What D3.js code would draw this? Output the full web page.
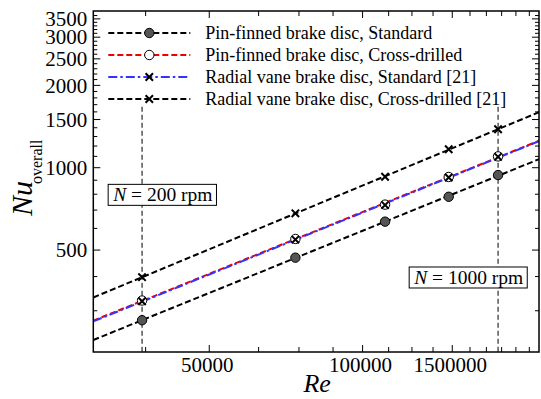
<!DOCTYPE html>
<html>
<head>
<meta charset="utf-8">
<script src="https://cdn.jsdelivr.net/npm/d3@7"></script>
<style>
  body { margin: 0; background: #fff; }
  text { font-family: "Liberation Serif", "Times New Roman", serif; fill: #000; }
</style>
</head>
<body>
<div id="chart"></div>
<script>
// Reynolds number at N = 200, 400, 600, 800, 1000 rpm
const re = [36900, 73800, 110700, 147600, 184500];
const nuPinStd = [277, 469, 635, 783, 940];
const nuPinCross = [327, 549, 733, 925, 1100];
const nuRadStd = [325, 546, 730, 921, 1096];
const nuRadCross = [398, 681, 927, 1168, 1382];

const seriesNames = [
  'Pin-finned brake disc, Standard',
  'Pin-finned brake disc, Cross-drilled',
  'Radial vane brake disc, Standard [21]',
  'Radial vane brake disc, Cross-drilled [21]'
];

const xTickValues = [37500, 50000, 62500, 75000, 87500, 100000, 112500, 125000,
  137500, 150000, 162500, 175000, 187500, 200000, 212500];
const xLabelValues = [50000, 100000, 150000];
const xLabels = ['50000', '100000', '1500000'];
const yLabelValues = [500, 1000, 1500, 2000, 2500, 3000, 3500];
const yMinorValues = d3.range(300, 3700, 100);

const rpmMarks = [
  { text: '200 rpm', re: 36900, nuTop: 1670, boxRe: 31800, boxNu: 798 },
  { text: '1000 rpm', re: 184500, nuTop: 1670, boxRe: 124000, boxNu: 398 }
];

const W = 541, H = 399;
const margin = { top: 11, right: 2, bottom: 47, left: 93.3 };
const width = W - margin.left - margin.right;
const height = H - margin.top - margin.bottom;

const svg = d3.select('#chart').append('svg')
  .attr('width', W).attr('height', H);
const g = svg.append('g').attr('transform', `translate(${margin.left},${margin.top})`);

const x = d3.scaleLog().domain([29600, 222000]).range([0, width]);
const y = d3.scaleLog().domain([212, 3740]).range([height, 0]);

svg.append('clipPath').attr('id', 'clip')
  .append('rect').attr('width', width).attr('height', height);

// ticks, inward on all four sides
const tickG = g.append('g').attr('stroke', '#000').attr('stroke-width', 1);
xTickValues.forEach(v => {
  const len = xLabelValues.includes(v) ? 7 : 5;
  tickG.append('line').attr('x1', x(v)).attr('x2', x(v)).attr('y1', height).attr('y2', height - len);
  tickG.append('line').attr('x1', x(v)).attr('x2', x(v)).attr('y1', 0).attr('y2', len);
});
yMinorValues.forEach(v => {
  const len = yLabelValues.includes(v) ? 7 : 4;
  tickG.append('line').attr('y1', y(v)).attr('y2', y(v)).attr('x1', 0).attr('x2', len);
  tickG.append('line').attr('y1', y(v)).attr('y2', y(v)).attr('x1', width).attr('x2', width - len);
});

g.append('g').selectAll('text').data(xLabelValues).join('text')
  .attr('x', d => x(d) - 2)
  .attr('y', height + 20)
  .attr('text-anchor', 'middle')
  .style('font-size', '21px')
  .text((d, i) => xLabels[i]);

g.append('g').selectAll('text').data(yLabelValues).join('text')
  .attr('x', -6)
  .attr('y', d => y(d))
  .attr('dy', '0.34em')
  .attr('text-anchor', 'end')
  .style('font-size', '21px')
  .text(d => d);

// vertical rpm lines
const plot = g.append('g').attr('clip-path', 'url(#clip)');
rpmMarks.forEach(m => {
  plot.append('line')
    .attr('x1', x(m.re)).attr('x2', x(m.re))
    .attr('y1', y(m.nuTop)).attr('y2', height)
    .attr('stroke', '#000').attr('stroke-width', 1)
    .attr('stroke-dasharray', '5,3');
});

// power-law fit in log-log space, drawn across the whole x domain
function fit(ys) {
  const lx = re.map(Math.log), ly = ys.map(Math.log);
  const mx = d3.mean(lx), my = d3.mean(ly);
  const b = d3.sum(lx, (v, i) => (v - mx) * (ly[i] - my)) / d3.sum(lx, v => (v - mx) ** 2);
  const a = my - b * mx;
  return x.domain().map(r => [r, Math.exp(a + b * Math.log(r))]);
}

const styles = [
  { data: nuPinStd, color: '#000', dash: '6,3', marker: 'fill' },
  { data: nuPinCross, color: '#f00000', dash: '6,3', marker: 'open' },
  { data: nuRadStd, color: '#3333ff', dash: '9,3,2.5,3', marker: 'x' },
  { data: nuRadCross, color: '#000', dash: '6,3', marker: 'x' }
];

const line = d3.line().x(d => x(d[0])).y(d => y(d[1]));

[0, 3, 1, 2].forEach(i => {
  const s = styles[i];
  plot.append('path')
    .datum(fit(s.data))
    .attr('fill', 'none')
    .attr('stroke', s.color)
    .attr('stroke-width', 2)
    .attr('stroke-dasharray', s.dash)
    .attr('d', line);
});

function drawMarker(sel, kind, cx, cy) {
  if (kind === 'fill' || kind === 'open') {
    sel.append('circle').attr('cx', cx).attr('cy', cy).attr('r', 4.7)
      .attr('fill', kind === 'fill' ? '#555' : '#fff')
      .attr('stroke', '#000').attr('stroke-width', 1);
  } else {
    const r = 3.7;
    sel.append('path')
      .attr('d', `M${cx - r},${cy - r}L${cx + r},${cy + r}M${cx - r},${cy + r}L${cx + r},${cy - r}`)
      .attr('stroke', '#000').attr('stroke-width', 2).attr('fill', 'none');
  }
}

const markG = g.append('g');
[0, 1, 2, 3].forEach(i => {
  const s = styles[i];
  s.data.forEach((v, j) => drawMarker(markG, s.marker, x(re[j]), y(v)));
});

// annotation boxes
rpmMarks.forEach(m => {
  const ag = g.append('g');
  const t = ag.append('text')
    .attr('x', x(m.boxRe) + 4)
    .attr('y', y(m.boxNu))
    .attr('dy', '0.35em')
    .style('font-size', '19.5px');
  t.append('tspan').style('font-style', 'italic').text('N');
  t.append('tspan').text(' = ' + m.text);
  const bb = t.node().getBBox();
  ag.insert('rect', 'text')
    .attr('x', bb.x - 4).attr('y', bb.y)
    .attr('width', bb.width + 8).attr('height', bb.height)
    .attr('fill', '#fff').attr('stroke', '#000').attr('stroke-width', 1);
});

// legend
const legend = g.append('g').attr('transform', 'translate(15,22)');
seriesNames.forEach((name, i) => {
  const s = styles[i];
  const row = legend.append('g').attr('transform', `translate(0,${i * 22})`);
  row.append('line').attr('x1', 0).attr('x2', 82).attr('y1', 0).attr('y2', 0)
    .attr('stroke', s.color).attr('stroke-width', 2).attr('stroke-dasharray', s.dash);
  drawMarker(row, s.marker, 41, 0);
  row.append('text').attr('x', 97).attr('y', 0).attr('dy', '0.32em')
    .style('font-size', '18px').text(name);
});

// frame
g.append('rect').attr('width', width).attr('height', height)
  .attr('fill', 'none').attr('stroke', '#000').attr('stroke-width', 1.5);

// axis titles
g.append('text')
  .attr('x', width / 2 + 1).attr('y', height + 40)
  .attr('text-anchor', 'middle')
  .style('font-size', '26px').style('font-style', 'italic')
  .text('Re');

const yt = svg.append('text')
  .attr('transform', 'translate(32,216) rotate(-90)')
  .attr('text-anchor', 'start')
  .style('font-size', '30px');
yt.append('tspan').style('font-style', 'italic').text('Nu');
yt.append('tspan').attr('dy', 10).attr('dx', -3).style('font-size', '16px').text('overall');
</script>
</body>
</html>
